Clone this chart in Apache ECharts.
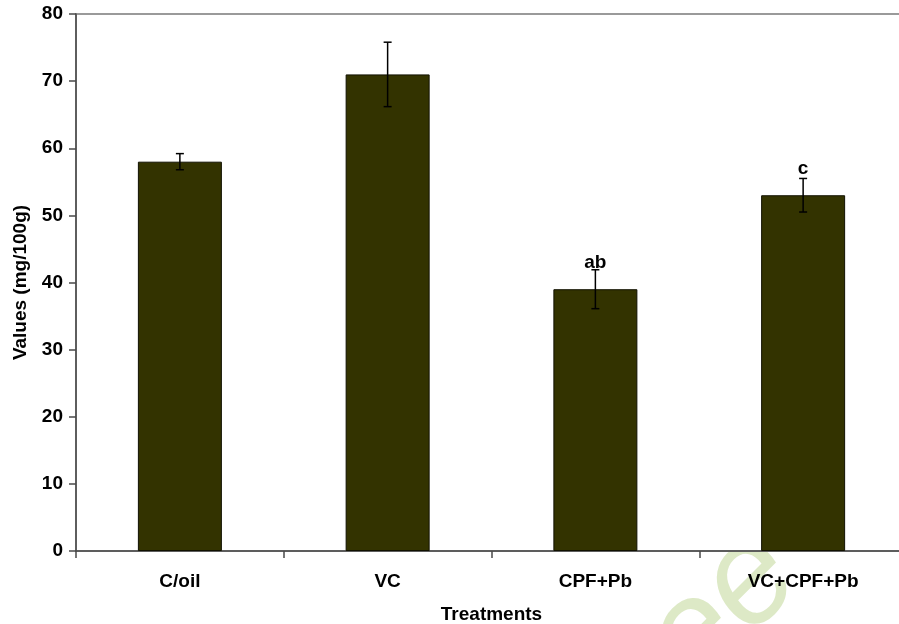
<!DOCTYPE html>
<html>
<head>
<meta charset="utf-8">
<script src="https://cdn.jsdelivr.net/npm/echarts@6/dist/echarts.min.js"></script>
<style>
html,body{margin:0;padding:0;background:#fff;}
#chart{width:899px;height:624px;}
</style>
</head>
<body>
<div id="chart"></div>
<script>
const categories = ['C/oil', 'VC', 'CPF+Pb', 'VC+CPF+Pb'];
const means = [58, 71, 39, 53];
const errors = [1.2, 4.8, 2.9, 2.5];
const sigLabels = ['', '', 'ab', 'c'];
const yTicks = [0, 10, 20, 30, 40, 50, 60, 70, 80];

const FONT = '"Liberation Sans", Arial, sans-serif';
const chart = echarts.init(document.getElementById('chart'), null, {renderer: 'canvas'});

const errData = means.map((m, i) => [i, m - errors[i], m + errors[i]]);

chart.setOption({
  backgroundColor: '#ffffff',
  animation: false,
  graphic: [{
    type: 'text',
    z: -10,
    left: 585,
    top: 505,
    rotation: Math.PI / 4,
    style: {
      text: 'ree',
      fontSize: 140,
      fontStyle: 'italic',
      fontFamily: FONT,
      fill: '#dde9c6'
    }
  }],
  grid: {
    left: 76, top: 14, width: 831, height: 537,
    containLabel: false,
    outerBoundsMode: 'none',
    show: true,
    backgroundColor: '#ffffff',
    borderColor: '#9a9a9a',
    borderWidth: 2
  },
  xAxis: {
    type: 'category',
    data: categories,
    boundaryGap: true,
    name: 'Treatments',
    nameLocation: 'middle',
    nameGap: 54,
    nameTextStyle: {fontFamily: FONT, fontWeight: 'bold', fontSize: 19, color: '#000'},
    axisLine: {show: true, lineStyle: {color: '#4a4a4a', width: 1.5}},
    axisTick: {show: true, alignWithLabel: false, length: 7, lineStyle: {color: '#4a4a4a', width: 1.5}},
    axisLabel: {fontFamily: FONT, fontWeight: 'bold', fontSize: 19, color: '#000', margin: 21},
    splitLine: {show: false}
  },
  yAxis: {
    type: 'value',
    min: yTicks[0],
    max: yTicks[yTicks.length - 1],
    interval: yTicks[1] - yTicks[0],
    name: 'Values (mg/100g)',
    nameLocation: 'middle',
    nameGap: 46,
    nameTextStyle: {fontFamily: FONT, fontWeight: 'bold', fontSize: 19, color: '#000'},
    axisLine: {show: true, lineStyle: {color: '#4a4a4a', width: 1.5}},
    axisTick: {show: true, length: 7, lineStyle: {color: '#4a4a4a', width: 1.5}},
    axisLabel: {fontFamily: FONT, fontWeight: 'bold', fontSize: 19, color: '#000', margin: 13,
      formatter: v => yTicks.includes(v) ? String(v) : ''},
    splitLine: {show: false}
  },
  series: [
    {
      type: 'bar',
      data: means,
      barWidth: 84,
      itemStyle: {color: '#333300', borderColor: '#111100', borderWidth: 1},
      label: {
        show: true,
        position: 'top',
        distance: 17,
        formatter: p => sigLabels[p.dataIndex],
        fontFamily: FONT, fontWeight: 'bold', fontSize: 19, color: '#000'
      },
      z: 2
    },
    {
      type: 'custom',
      data: errData,
      z: 3,
      renderItem: function (params, api) {
        const x = api.value(0);
        const lo = api.coord([x, api.value(1)]);
        const hi = api.coord([x, api.value(2)]);
        const cap = 4;
        const style = {stroke: '#000', lineWidth: 1.5};
        return {
          type: 'group',
          children: [
            {type: 'line', shape: {x1: lo[0], y1: lo[1], x2: hi[0], y2: hi[1]}, style: style},
            {type: 'line', shape: {x1: lo[0] - cap, y1: lo[1], x2: lo[0] + cap, y2: lo[1]}, style: style},
            {type: 'line', shape: {x1: hi[0] - cap, y1: hi[1], x2: hi[0] + cap, y2: hi[1]}, style: style}
          ]
        };
      }
    }
  ]
});
</script>
</body>
</html>
